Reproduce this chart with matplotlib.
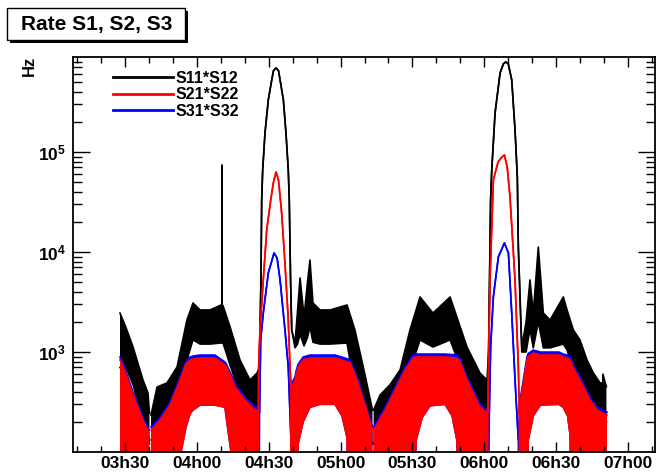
import matplotlib
matplotlib.use("Agg")
import matplotlib.pyplot as plt
import numpy as np
from matplotlib.lines import Line2D
from matplotlib.patches import Rectangle
from matplotlib.ticker import FixedLocator, LogLocator, NullFormatter, MultipleLocator

plt.rcParams['font.family'] = ['Liberation Sans', 'DejaVu Sans']
plt.rcParams['font.weight'] = 'bold'
plt.rcParams['mathtext.fontset'] = 'custom'
plt.rcParams['mathtext.rm'] = 'Liberation Sans:bold'
plt.rcParams['mathtext.it'] = 'Liberation Sans:bold'
plt.rcParams['mathtext.bf'] = 'Liberation Sans:bold'

nan = np.nan

# time in hours, rates in Hz (upper / lower edge of the noisy band; equal where the curve is a thin line)
black_t = [3.465, 3.500, 3.556, 3.625, 3.660, 3.670, 3.674,
           3.681, 3.723, 3.792, 3.862, 3.931, 3.973, 4.022, 4.092, 4.168, 4.174, 4.175, 4.176, 4.182,
           4.231, 4.300, 4.370, 4.419, 4.435,
           4.446, 4.451, 4.458, 4.474, 4.497, 4.521, 4.533, 4.551, 4.568, 4.579, 4.602, 4.620, 4.636, 4.643,
           4.652, 4.660,
           4.683, 4.700, 4.718, 4.746, 4.770, 4.787, 4.808, 4.857, 4.927, 5.045, 5.100, 5.170, 5.222, 5.226,
           5.230, 5.275, 5.344, 5.414, 5.483, 5.553, 5.643, 5.762, 5.880, 5.970, 6.019, 6.030,
           6.044, 6.052, 6.075, 6.110, 6.133, 6.149, 6.167, 6.191, 6.214, 6.230, 6.237, 6.261,
           6.291, 6.318, 6.341, 6.376, 6.411, 6.458, 6.550, 6.576, 6.620, 6.666, 6.715, 6.759, 6.806,
           6.824, 6.826, 6.840, 6.850]
black_hi = [2450, 1860, 1120, 525, 389, 245, nan,
            234, 447, 490, 708, 2090, 3090, 2630, 2630, 2950, 2950, 74000, 2950, 2900,
            1780, 832, 525, 617, 708,
            5250, 33100, 66100, 155000, 331000, 525000, 650000, 692000, 650000, 525000, 331000, 155000, 66100,
            33100, 5250, 1660,
            1230, 2500, 5500, 2240, 5000, 8300, 3090, 2630, 2630, 2950, 1660, 590, 263, nan,
            263, 372, 470, 661, 1660, 3550, 2450, 3550, 1120, 617, 525, 1000,
            33100, 66100, 245000, 617000, 760000, 794000, 760000, 525000, 166000, 56200, 11200, 1120,
            2000, 5250, 2450, 11200, 2450, 2090, 3550, 2630, 1660, 1320, 832, 617, 490,
            490, 600, 500, 450]
black_lo = [700, 740, 470, 209, 166, 120, nan,
            132, 186, 234, 331, 832, 1320, 1200, 1200, 1230, 1230, 1230, 1230, 1230,
            740, 372, 263, 234, 708,
            5250, 33100, 66100, 155000, 331000, 525000, 650000, 692000, 650000, 525000, 331000, 155000, 66100,
            33100, 5250, 1660,
            1100, 1200, 1500, 1150, 1400, 1800, 1250, 1200, 1200, 1230, 417, 209, 120, nan,
            120, 166, 209, 331, 661, 1320, 1120, 1320, 470, 263, 234, 1000,
            33100, 66100, 245000, 617000, 760000, 794000, 760000, 525000, 166000, 56200, 11200, 1000,
            1000, 1700, 1100, 2000, 1100, 1100, 1200, 1050, 660, 500, 330, 250, 200,
            200, 150, 200, 200]

red_t = [3.465, 3.500, 3.556, 3.625, 3.667, 3.674,
         3.681, 3.744, 3.813, 3.883, 3.890, 3.924, 3.952, 3.973, 4.022, 4.126, 4.196, 4.203, 4.238,
         4.265, 4.335, 4.405, 4.428,
         4.430, 4.439, 4.462, 4.486, 4.514, 4.532, 4.551, 4.568, 4.590, 4.613, 4.636, 4.648, 4.653,
         4.656, 4.683, 4.690, 4.704, 4.739, 4.787, 4.857, 4.961, 5.010, 5.045, 5.066, 5.115, 5.170, 5.222, 5.226,
         5.230, 5.310, 5.379, 5.448, 5.504, 5.525, 5.567, 5.622, 5.727, 5.776, 5.810, 5.831, 5.880, 5.970, 6.019,
         6.025, 6.028, 6.040, 6.063, 6.096, 6.117, 6.140, 6.160, 6.179, 6.214, 6.237, 6.244,
         6.248, 6.297, 6.305, 6.341, 6.390, 6.520, 6.550, 6.580, 6.597, 6.618, 6.666, 6.736, 6.785, 6.854]
red_hi = [832, 630, 372, 209, 155, nan,
          166, 209, 295, 525, 560, 760, 832, 850, 871, 871, 741, 720, 560,
          447, 331, 263, 263,
          708, 1660, 5250, 16600, 33100, 49000, 63100, 52500, 24500, 7760, 2090, 708, 525,
          447, 525, 600, 700, 832, 871, 871, 871, 830, 800, 780, 525, 295, 166, nan,
          166, 263, 417, 660, 871, 891, 891, 891, 891, 880, 871, 800, 525, 282, 245,
          300, 525, 5250, 52500, 79400, 87000, 93300, 70000, 35500, 5250, 708, 245,
          300, 832, 900, 977, 933, 933, 891, 870, 832, 700, 525, 331, 263, 234]
red_lo = [1, 1, 1, 1, 1, nan,
          1, 1, 1, 1, 100, 178, 240, 263, 295, 295, 280, 230, 100,
          1, 1, 1, 1,
          708, 1660, 5250, 16600, 33100, 49000, 63100, 52500, 24500, 7760, 2090, 708, 525,
          1, 1, 1, 120, 200, 280, 300, 300, 230, 140, 1, 1, 1, 1, nan,
          1, 1, 1, 1, 1, 130, 220, 290, 300, 230, 130, 1, 1, 1, 1,
          300, 525, 5250, 52500, 79400, 87000, 93300, 70000, 35500, 5250, 708, 245,
          1, 1, 130, 230, 295, 300, 280, 230, 150, 1, 1, 1, 1, 1]

blue_t = [3.465, 3.500, 3.556, 3.625, 3.667, 3.674,
          3.681, 3.744, 3.813, 3.883, 3.890, 3.924, 3.952, 3.973, 4.022, 4.126, 4.196, 4.203, 4.238,
          4.265, 4.335, 4.405, 4.428,
          4.436, 4.444, 4.462, 4.497, 4.537, 4.558, 4.579, 4.613, 4.636, 4.648, 4.655,
          4.656, 4.683, 4.690, 4.704, 4.739, 4.787, 4.857, 4.961, 5.010, 5.045, 5.066, 5.115, 5.170, 5.222, 5.226,
          5.230, 5.310, 5.379, 5.448, 5.504, 5.525, 5.567, 5.622, 5.727, 5.776, 5.810, 5.831, 5.880, 5.970, 6.019,
          6.035, 6.044, 6.063, 6.098, 6.140, 6.168, 6.191, 6.214, 6.237,
          6.248, 6.297, 6.305, 6.341, 6.390, 6.520, 6.550, 6.580, 6.597, 6.618, 6.666, 6.736, 6.785, 6.854]
blue_hi = [890, 674, 398, 224, 166, nan,
           178, 224, 316, 562, 599, 813, 890, 910, 932, 932, 793, 770, 599,
           478, 354, 281, 281,
           245, 1320, 2450, 6170, 9770, 8710, 5250, 1660, 708, 245, 132,
           478, 562, 642, 749, 890, 932, 932, 932, 888, 856, 835, 562, 316, 178, nan,
           178, 281, 446, 706, 932, 953, 953, 953, 953, 942, 932, 856, 562, 302, 262,
           245, 1120, 3550, 8910, 12300, 9770, 2450, 525, 132,
           321, 890, 963, 1045, 998, 998, 953, 931, 890, 749, 562, 354, 281, 250]
blue_lo = [1, 1, 1, 1, 1, nan,
           1, 1, 1, 1, 100, 178, 240, 263, 295, 295, 280, 230, 100,
           1, 1, 1, 1,
           245, 1320, 2450, 6170, 9770, 8710, 5250, 1660, 708, 245, 132,
           1, 1, 1, 120, 200, 280, 300, 300, 230, 140, 1, 1, 1, 1, nan,
           1, 1, 1, 1, 1, 130, 220, 290, 300, 230, 130, 1, 1, 1, 1,
           245, 1120, 3550, 8910, 12300, 9770, 2450, 525, 132,
           1, 1, 130, 230, 295, 300, 280, 230, 150, 1, 1, 1, 1, 1]

series_labels = ['S11*S12', 'S21*S22', 'S31*S32']
hour_ticks = [3.5, 4.0, 4.5, 5.0, 5.5, 6.0, 6.5, 7.0]
hour_labels = ['03h30', '04h00', '04h30', '05h00', '05h30', '06h00', '06h30', '07h00']
decade_ticks = [1e3, 1e4, 1e5]
decade_labels = [r'$10^{3}$', r'$10^{4}$', r'$10^{5}$']

W, H = 657, 472
fig = plt.figure(figsize=(W / 100, H / 100), dpi=100)
ax = fig.add_axes([73 / W, 20 / H, 582 / W, 395 / H])

# black first, then blue, red on top
z = 1.0
for t, hi, lo, c in [(black_t, black_hi, black_lo, 'black'),
                     (blue_t, blue_hi, blue_lo, 'blue'),
                     (red_t, red_hi, red_lo, 'red')]:
    t, hi, lo = np.array(t), np.array(hi, float), np.array(lo, float)
    ax.fill_between(t, lo, hi, color=c, lw=0, zorder=z)
    ax.plot(t, hi, color=c, lw=1.2, zorder=z + 0.05)
    ax.plot(t, lo, color=c, lw=1.2, zorder=z + 0.05)
    z += 0.2

ax.set_yscale('log')
ax.set_ylim(100, 8.9e5)
ax.set_xlim(3.138, 7.188)

ax.yaxis.set_major_locator(FixedLocator(decade_ticks))
ax.set_yticklabels(decade_labels)
ax.yaxis.set_minor_locator(LogLocator(base=10, subs=np.arange(2, 10)))
ax.yaxis.set_minor_formatter(NullFormatter())
ax.xaxis.set_major_locator(FixedLocator(hour_ticks))
ax.set_xticklabels(hour_labels)
ax.xaxis.set_minor_locator(MultipleLocator(1 / 6))

ax.tick_params(axis='both', which='both', direction='in', top=True, right=True, width=1)
ax.tick_params(axis='x', which='major', length=7.5, pad=3, labelsize=12.5)
ax.tick_params(axis='x', which='minor', length=4.5)
ax.tick_params(axis='y', which='major', length=12, pad=5, labelsize=12.5)
ax.tick_params(axis='y', which='minor', length=6.5)
for s in ax.spines.values():
    s.set_linewidth(1.3)

handles = [Line2D([], [], color=c, lw=2) for c in ['black', 'red', 'blue']]
ax.legend(handles, series_labels, loc='upper left', bbox_to_anchor=(113 / W, 1 - 71 / H),
          bbox_transform=fig.transFigure, frameon=False, fontsize=11.5, handlelength=3.75,
          handletextpad=0.15, labelspacing=0.08, borderpad=0, borderaxespad=0)

fig.text(29 / W, 1 - 66 / H, 'Hz', rotation=90, fontsize=12, fontweight='bold', ha='center', va='center')

# title box with shadow
fig.patches.append(Rectangle((9.7 / W, 1 - 43 / H), 178.3 / W, 31.7 / H, transform=fig.transFigure,
                             facecolor='black', edgecolor='black', lw=0))
fig.patches.append(Rectangle((6.7 / W, 1 - 40 / H), 178.3 / W, 31.7 / H, transform=fig.transFigure,
                             facecolor='white', edgecolor='black', lw=1))
fig.text(97 / W, 1 - 24.5 / H, 'Rate S1, S2, S3', fontsize=15, fontweight='bold', ha='center', va='center')

fig.savefig('out.png', dpi=100)
